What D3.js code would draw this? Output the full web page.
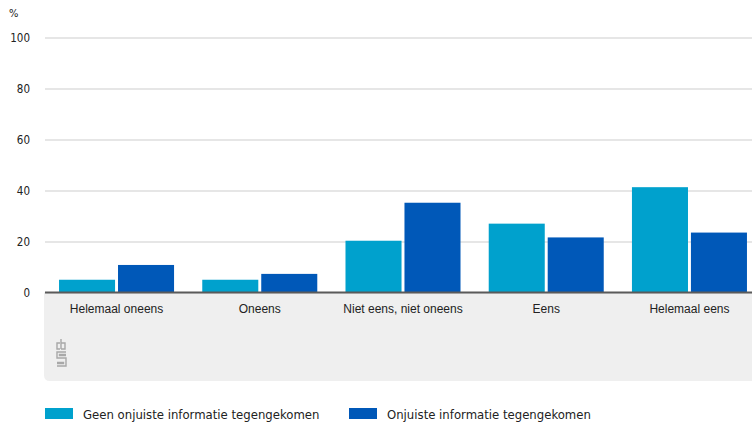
<!DOCTYPE html>
<html>
<head>
<meta charset="utf-8">
<script src="https://cdn.jsdelivr.net/npm/d3@7"></script>
<style>
  html, body { margin: 0; padding: 0; background: #fff; }
  svg { display: block; font-family: "Liberation Sans Narrow", "DejaVu Sans Condensed", "Roboto", sans-serif; }
</style>
</head>
<body>
<svg id="chart" width="752" height="424"></svg>
<script>
const categories = ["Helemaal oneens", "Oneens", "Niet eens, niet oneens", "Eens", "Helemaal eens"];
const seriesNames = ["Geen onjuiste informatie tegengekomen", "Onjuiste informatie tegengekomen"];
const geenOnjuist = [5, 5, 20.3, 27, 41.3];
const welOnjuist = [10.8, 7.3, 35.2, 21.6, 23.5];
const yTicks = [0, 20, 40, 60, 80, 100];
const colors = ["#00a1cd", "#0058b8"];

const svg = d3.select("#chart");
const plotLeft = 45, plotRight = 752, plotTop = 37.5, plotBottom = 292.5;

// the category band runs slightly past the visible edge
const x = d3.scaleBand().domain(categories).range([plotLeft, 761]).paddingInner(0.197).paddingOuter(0.098);
const xs = d3.scaleBand().domain(seriesNames).range([0, x.bandwidth()]).paddingInner(0.05);
const y = d3.scaleLinear().domain([0, 100]).range([plotBottom, plotTop]);

// grey footer panel under the axis
svg.append("path")
  .attr("d", (() => {
    const r = 6, x0 = 44, y0 = plotBottom, x1 = 760, y1 = 381;
    return `M${x0},${y0} H${x1} V${y1} H${x0 + r} Q${x0},${y1} ${x0},${y1 - r} Z`;
  })())
  .attr("fill", "#efefef");

// gridlines and y labels
const yAxis = svg.append("g").attr("transform", `translate(${plotLeft},0)`)
  .call(d3.axisLeft(y).tickValues(yTicks).tickSize(-(plotRight - plotLeft)).tickPadding(14));
yAxis.select(".domain").remove();
yAxis.selectAll(".tick line").attr("stroke", "#e6e6e6").attr("stroke-width", 2);
yAxis.selectAll(".tick text").attr("fill", "#222").attr("font-size", 11.5)
  .attr("font-family", "'DejaVu Sans Condensed', sans-serif").attr("x", -15);

svg.append("text").attr("x", 9).attr("y", 17).attr("fill", "#222")
  .attr("font-size", 11).attr("font-family", "'DejaVu Sans Condensed', sans-serif").text("%");

// bars
const groups = svg.append("g").selectAll("g").data(categories).join("g")
  .attr("transform", d => `translate(${x(d)},0)`);
groups.selectAll("rect")
  .data((d, i) => [
    { s: seriesNames[0], v: geenOnjuist[i], c: colors[0] },
    { s: seriesNames[1], v: welOnjuist[i], c: colors[1] }
  ])
  .join("rect")
  .attr("x", d => xs(d.s))
  .attr("width", xs.bandwidth())
  .attr("y", d => y(d.v))
  .attr("height", d => y(0) - y(d.v))
  .attr("fill", d => d.c);

// baseline
svg.append("line").attr("x1", plotLeft).attr("x2", plotRight).attr("y1", plotBottom).attr("y2", plotBottom)
  .attr("stroke", "#5a5a5a").attr("stroke-width", 2);

// category labels
const xAxis = svg.append("g").attr("transform", `translate(0,${plotBottom})`)
  .call(d3.axisBottom(x).tickSize(0).tickPadding(12));
xAxis.select(".domain").remove();
xAxis.selectAll(".tick text").attr("fill", "#222").attr("font-size", 12);

// cbs mark
const logo = svg.append("g").attr("transform", "translate(56,338)")
  .attr("fill", "none").attr("stroke", "#a8a8a8").attr("stroke-width", 1.4);
logo.append("path").attr("d", "M5,1 V11 M5,5 H9 V11 H5");      // b
logo.append("path").attr("d", "M4,5 H1 V11 H4");               // c
logo.append("path").attr("d", "M10,14 H1 V20 H10 V28 H1");     // s outer
logo.append("path").attr("d", "M10,16.5 H3.5 V17.5 H10 M1,25.5 H7.5 V24.5 H1"); // s inner

// legend
const legend = svg.append("g").attr("transform", "translate(45,408)");
const legendX = [0, 304];
seriesNames.forEach((name, i) => {
  const g = legend.append("g").attr("transform", `translate(${legendX[i]},0)`);
  g.append("rect").attr("width", 28).attr("height", 11).attr("fill", colors[i]);
  g.append("text").attr("x", 38).attr("y", 10.5).attr("fill", "#222").attr("font-size", 13).text(name);
});
</script>
</body>
</html>
